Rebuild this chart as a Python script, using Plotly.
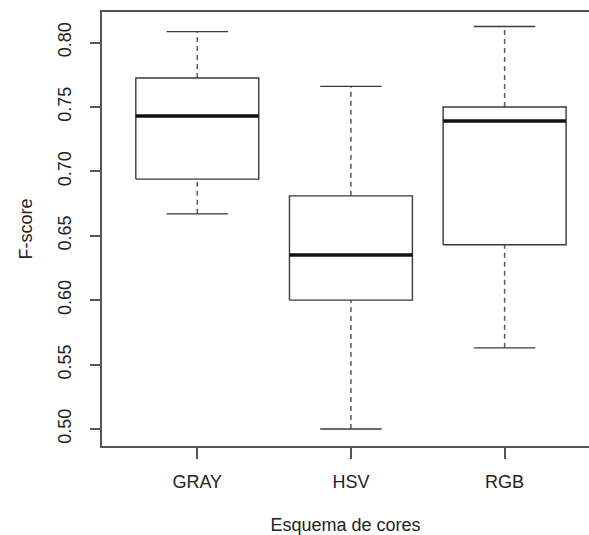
import plotly.graph_objects as go

categories = ["GRAY", "HSV", "RGB"]
lower_whisker = [0.667, 0.500, 0.563]
q1 = [0.694, 0.600, 0.643]
median = [0.743, 0.635, 0.739]
q3 = [0.7725, 0.681, 0.750]
upper_whisker = [0.8085, 0.766, 0.8125]

y_ticks = [0.50, 0.55, 0.60, 0.65, 0.70, 0.75, 0.80]
y_tick_labels = ["0.50", "0.55", "0.60", "0.65", "0.70", "0.75", "0.80"]

BOX_HALF = 0.4
CAP_HALF = 0.2
box_col = "#3a3a3a"
wh_col = "#5a5a5a"
txt_col = "#222222"

W, H = 589, 535

fig = go.Figure()
for i, cat in enumerate(categories):
    xc = i + 1
    fig.add_trace(go.Scatter(x=[xc, xc], y=[q3[i], upper_whisker[i]], mode="lines",
                             line=dict(color=wh_col, width=1.5, dash="5px,4px"), hoverinfo="skip"))
    fig.add_trace(go.Scatter(x=[xc, xc], y=[lower_whisker[i], q1[i]], mode="lines",
                             line=dict(color=wh_col, width=1.5, dash="5px,4px"), hoverinfo="skip"))
    for v in (upper_whisker[i], lower_whisker[i]):
        fig.add_trace(go.Scatter(x=[xc - CAP_HALF, xc + CAP_HALF], y=[v, v], mode="lines",
                                 line=dict(color=box_col, width=1.4), hoverinfo="skip"))
    fig.add_trace(go.Scatter(
        x=[xc - BOX_HALF, xc + BOX_HALF, xc + BOX_HALF, xc - BOX_HALF, xc - BOX_HALF],
        y=[q1[i], q1[i], q3[i], q3[i], q1[i]], mode="lines",
        line=dict(color=box_col, width=1.4), name=cat, hoverinfo="skip"))
    fig.add_trace(go.Scatter(x=[xc - BOX_HALF, xc + BOX_HALF], y=[median[i], median[i]], mode="lines",
                             line=dict(color="#111111", width=3.5), hoverinfo="skip"))

FONT = "Liberation Sans"
fig.update_layout(
    width=W, height=H,
    margin=dict(l=102, r=0, t=12, b=89),
    paper_bgcolor="white", plot_bgcolor="white",
    showlegend=False,
    hovermode=False,
    font=dict(family=FONT, size=18, color=txt_col),
    xaxis=dict(
        range=[0.38, 1 + (589 - 197.7) / 153.5],
        tickvals=[1, 2, 3], ticktext=categories,
        tickfont=dict(family=FONT, size=18, color=txt_col),
        ticklabelstandoff=8,
        showgrid=False, zeroline=False,
        showline=True, mirror=True, linecolor="#555555", linewidth=1.5,
        ticks="outside", ticklen=11, tickwidth=1.5, tickcolor="#555555",
        title=dict(text="Esquema de cores", standoff=31,
                   font=dict(family=FONT, size=18, color=txt_col)),
    ),
    yaxis=dict(
        range=[0.4868, 0.8237],
        tickvals=y_ticks, ticktext=y_tick_labels, tickangle=-90,
        tickfont=dict(family=FONT, size=18, color=txt_col),
        ticklabelstandoff=12,
        showgrid=False, zeroline=False,
        showline=True, linecolor="#555555", linewidth=1.5,
        ticks="outside", ticklen=10, tickwidth=1.5, tickcolor="#555555",
        title=dict(text="F-score", standoff=18,
                   font=dict(family=FONT, size=18, color=txt_col)),
    ),
)

fig.write_html(
    "out.html",
    config={"displayModeBar": False},
    post_script="document.body.style.margin='0';document.body.style.overflow='hidden';",
)
